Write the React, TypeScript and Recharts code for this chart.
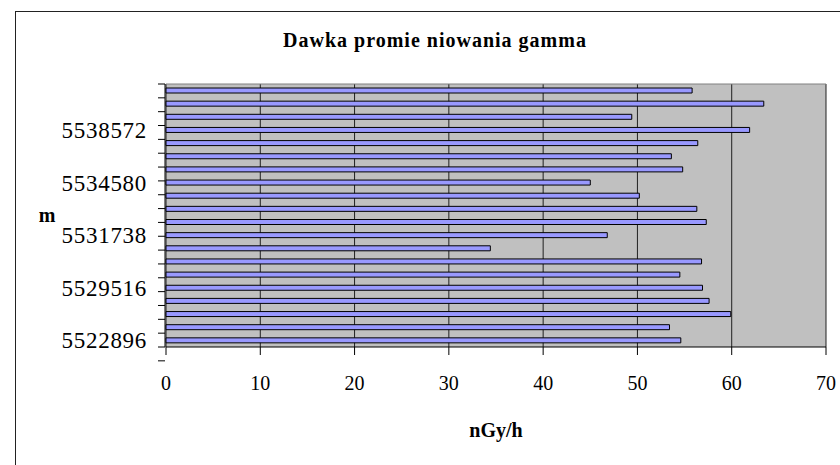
import { BarChart, Bar, XAxis, YAxis, CartesianGrid } from 'recharts'

// northing of each measuring point, bottom of the chart first
const northings = [
  '5522896', '5524210', '5526034', '5527802',
  '5529516', '5530102', '5530688', '5531215',
  '5531738', '5532420', '5533150', '5533870',
  '5534580', '5535490', '5536380', '5537480',
  '5538572', '5539410', '5540260', '5541130',
]

// gamma dose rate, nGy/h
const doses = [
  54.6, 53.4, 59.9, 57.6,
  56.9, 54.5, 56.8, 34.4,
  46.8, 57.3, 56.3, 50.2,
  45.0, 54.8, 53.6, 56.4,
  61.9, 49.4, 63.4, 55.8,
]

const doseTicks = [0, 10, 20, 30, 40, 50, 60, 70]

const SERIF = "'Liberation Serif', 'Times New Roman', serif"

const data = northings.map((n, i) => ({ northing: n, dose: doses[i] }))
const boundaryTicks = Array.from({ length: northings.length + 1 }, (_, i) => i)

function NorthingTick({ x, y, payload }: any) {
  return (
    <text x={x} y={y} dy={8} textAnchor="end" fontSize={23} fontFamily={SERIF} fill="#000" letterSpacing={0.7}>
      {payload.value}
    </text>
  )
}

const NoLabel = () => <g />

export default function App() {
  const W = 840
  const H = 465

  return (
    <div style={{ position: 'absolute', left: 0, top: 0, width: W, height: H, background: '#fff', overflow: 'hidden' }}>
      {/* chart-area frame, runs off the right and bottom edges */}
      <div
        style={{
          position: 'absolute',
          left: 15,
          top: 11,
          width: W,
          height: H,
          borderTop: '1px solid #222',
          borderLeft: '1px solid #222',
        }}
      />
      <BarChart
        width={W}
        height={H}
        data={data}
        layout="vertical"
        margin={{ top: 84, right: 14, left: 16, bottom: 78 }}
        barSize={5}
      >
        <CartesianGrid fill="#C0C0C0" horizontal={false} stroke="#202020" strokeOpacity={1} />
        <CartesianGrid
          vertical={false}
          stroke="#808080"
          strokeOpacity={1}
          horizontalCoordinatesGenerator={({ offset }: any) => [offset.top]}
        />
        <XAxis
          type="number"
          domain={[0, 70]}
          ticks={doseTicks}
          interval={0}
          height={40}
          axisLine={{ stroke: '#000' }}
          tickLine={{ stroke: '#000' }}
          tickSize={8}
          tickMargin={21}
          tick={{ fontSize: 20, fill: '#000', fontFamily: SERIF }}
        />
        <YAxis
          yAxisId="marks"
          type="number"
          domain={[0, northings.length]}
          ticks={boundaryTicks}
          interval={0}
          width={149}
          tick={<NoLabel />}
          tickSize={7}
          tickLine={{ stroke: '#000' }}
          axisLine={{ stroke: '#000' }}
        />
        <YAxis
          type="category"
          dataKey="northing"
          reversed
          interval={3}
          width={1}
          axisLine={false}
          tickLine={false}
          tickSize={0}
          tickMargin={19}
          tick={<NorthingTick />}
        />
        <Bar dataKey="dose" fill="#9999FF" stroke="#000" strokeWidth={1} isAnimationActive={false} />
      </BarChart>
      <svg width={W} height={H} style={{ position: 'absolute', left: 0, top: 0, pointerEvents: 'none' }}>
        <text x={435} y={47} textAnchor="middle" fontSize={20} fontWeight="bold" fontFamily={SERIF} letterSpacing={1}>
          <tspan>Dawka promie</tspan>
          <tspan dx={6}>niowania gamma</tspan>
        </text>
        <text x={47} y={222} textAnchor="middle" fontSize={20} fontWeight="bold" fontFamily={SERIF}>
          m
        </text>
        <text x={496} y={437} textAnchor="middle" fontSize={20} fontWeight="bold" fontFamily={SERIF}>
          nGy/h
        </text>
      </svg>
    </div>
  )
}
